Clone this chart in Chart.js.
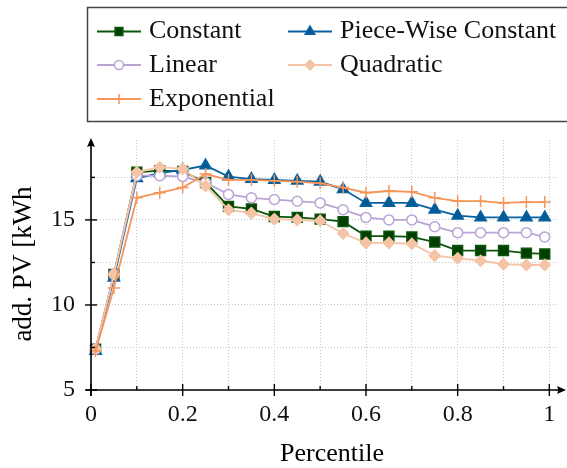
<!DOCTYPE html>
<html>
<head>
<meta charset="utf-8">
<script src="https://cdn.jsdelivr.net/npm/chart.js"></script>
<style>
  html, body { margin: 0; padding: 0; background: #fff; }
  #contenedor { width: 567px; height: 468px; }
</style>
</head>
<body>
<div id="contenedor"><canvas id="grafico"></canvas></div>
<script>
// --- Datos ---
const percentiles = [0.01, 0.05, 0.1, 0.15, 0.2, 0.25, 0.3, 0.35, 0.4, 0.45, 0.5,
                     0.55, 0.6, 0.65, 0.7, 0.75, 0.8, 0.85, 0.9, 0.95, 0.99];
const constante = [7.4, 11.8, 17.8, 17.9, 17.85, 17.2, 15.8, 15.65, 15.2, 15.15, 15.05,
                   14.9, 14.05, 14.05, 14.0, 13.7, 13.2, 13.2, 13.2, 13.05, 13.0];
const porTramos = [7.3, 11.6, 17.45, 17.75, 17.95, 18.2, 17.55, 17.4, 17.35, 17.3, 17.25,
                   16.8, 16.0, 16.0, 16.0, 15.6, 15.25, 15.15, 15.15, 15.15, 15.15];
const lineal = [7.4, 11.8, 17.6, 17.6, 17.55, 17.2, 16.5, 16.3, 16.2, 16.1, 16.0,
                15.6, 15.15, 15.0, 15.0, 14.6, 14.25, 14.25, 14.25, 14.25, 14.0];
const cuadratica = [7.4, 11.8, 17.8, 18.1, 18.0, 17.0, 15.6, 15.4, 15.05, 15.0, 14.95,
                    14.2, 13.65, 13.65, 13.6, 12.9, 12.75, 12.6, 12.4, 12.35, 12.35];
const exponencial = [7.3, 11.0, 16.3, 16.6, 16.9, 17.7, 17.35, 17.35, 17.3, 17.25, 17.15,
                     16.9, 16.6, 16.7, 16.65, 16.3, 16.1, 16.1, 16.0, 16.05, 16.05];

const nombresSeries = ["Constant", "Piece-Wise Constant", "Linear", "Quadratic", "Exponential"];

// ticks: rejilla menor y etiquetas
const xRejilla = [0, 0.1, 0.2, 0.3, 0.4, 0.5, 0.6, 0.7, 0.8, 0.9, 1];
const xEtiquetas = [0, 0.2, 0.4, 0.6, 0.8, 1];
const yRejilla = [5, 7.5, 10, 12.5, 15, 17.5];
const yEtiquetas = [5, 10, 15];

const fuente = "'Liberation Serif', 'DejaVu Serif', serif";

function puntos(valores) {
    return percentiles.map((p, i) => ({ x: p, y: valores[i] }));
}

function serie(nombre, valores, color, relleno, estilo, radio, orden) {
    return {
        label: nombre,
        data: puntos(valores),
        borderColor: color,
        backgroundColor: relleno,
        borderWidth: 1.8,
        pointStyle: estilo,
        pointRadius: radio,
        pointHoverRadius: radio,
        pointBackgroundColor: relleno,
        pointBorderColor: color,
        pointBorderWidth: 1.5,
        tension: 0,
        clip: false,
        order: orden
    };
}

const datasets = [
    serie(nombresSeries[0], constante, "#0b560b", "#003f00", "rect", 7, 5),
    serie(nombresSeries[1], porTramos, "#0862a0", "#005a96", "triangle", 6.5, 4),
    serie(nombresSeries[2], lineal, "#b9a4d5", "#ffffff", "circle", 5, 3),
    serie(nombresSeries[3], cuadratica, "#f5c3a5", "#f5c3a5", "rectRot", 5.5, 2),
    serie(nombresSeries[4], exponencial, "#f5955a", "#f5955a", "cross", 6, 1)
];

// --- Ejes, flechas, titulos y leyenda ---
function flecha(ctx, x, y, dir) {
    ctx.save();
    ctx.translate(x, y);
    ctx.rotate(dir);
    ctx.beginPath();
    ctx.moveTo(4, 0);
    ctx.lineTo(-5, -4);
    ctx.quadraticCurveTo(-3, 0, -5, 4);
    ctx.closePath();
    ctx.fill();
    ctx.restore();
}

const pluginEjes = {
    id: "ejes",
    afterDraw(chart) {
        const ctx = chart.ctx;
        const xs = chart.scales.x, ys = chart.scales.y;
        const x0 = xs.getPixelForValue(0);
        const y0 = ys.getPixelForValue(5);

        ctx.save();
        ctx.strokeStyle = "#000";
        ctx.fillStyle = "#000";
        ctx.lineWidth = 1.6;

        // eje x
        ctx.beginPath();
        ctx.moveTo(x0 - 5, y0);
        ctx.lineTo(561, y0);
        ctx.stroke();
        flecha(ctx, 562, y0, 0);

        // eje y
        ctx.beginPath();
        ctx.moveTo(x0, y0 + 6);
        ctx.lineTo(x0, chart.chartArea.top + 3);
        ctx.stroke();
        flecha(ctx, x0, chart.chartArea.top + 2, -Math.PI / 2);

        // marcas de los ejes
        ctx.lineWidth = 1.4;
        xRejilla.forEach(v => {
            const px = xs.getPixelForValue(v);
            const mayor = xEtiquetas.includes(v);
            ctx.beginPath();
            ctx.moveTo(px, mayor ? y0 + 6 : y0);
            ctx.lineTo(px, y0 - (mayor ? 6 : 4));
            ctx.stroke();
        });
        yRejilla.forEach(v => {
            const py = ys.getPixelForValue(v);
            const mayor = yEtiquetas.includes(v);
            ctx.beginPath();
            ctx.moveTo(mayor ? x0 - 6 : x0, py);
            ctx.lineTo(x0 + (mayor ? 6 : 4), py);
            ctx.stroke();
        });

        // titulos
        ctx.font = "26px " + fuente;
        ctx.textAlign = "center";
        ctx.textBaseline = "alphabetic";
        ctx.fillText("Percentile", 332, 461);
        ctx.save();
        ctx.translate(31, 264);
        ctx.rotate(-Math.PI / 2);
        ctx.font = "27px " + fuente;
        ctx.fillText("add. PV [kWh", 0, 0);
        ctx.restore();

        // leyenda
        ctx.lineWidth = 1.5;
        ctx.strokeStyle = "#444";
        ctx.strokeRect(87.5, 7.5, 500, 114);

        const entradas = [
            { i: 0, x: 97, y: 31.5, r: 5.5 },
            { i: 1, x: 288, y: 31.5, r: 5.5 },
            { i: 2, x: 97, y: 65, r: 4.5 },
            { i: 3, x: 288, y: 65, r: 5 },
            { i: 4, x: 97, y: 99, r: 5 }
        ];
        entradas.forEach(e => {
            const ds = chart.data.datasets[e.i];
            ctx.strokeStyle = ds.borderColor;
            ctx.lineWidth = 1.8;
            ctx.beginPath();
            ctx.moveTo(e.x, e.y);
            ctx.lineTo(e.x + 44, e.y);
            ctx.stroke();
            ctx.fillStyle = ds.pointBackgroundColor;
            ctx.lineWidth = ds.pointBorderWidth;
            Chart.helpers.drawPoint(ctx, {
                pointStyle: ds.pointStyle,
                radius: e.r,
                borderWidth: ds.pointBorderWidth,
                rotation: 0
            }, e.x + 22, e.y);
            ctx.fillStyle = "#111";
            ctx.font = "26px " + fuente;
            ctx.textAlign = "left";
            ctx.textBaseline = "alphabetic";
            ctx.fillText(ds.label, e.x + 52, e.y + 6.5);
        });
        ctx.restore();
    }
};

// --- Grafico ---
new Chart(document.getElementById("grafico"), {
    type: "line",
    data: { datasets: datasets },
    options: {
        responsive: true,
        maintainAspectRatio: false,
        animation: false,
        devicePixelRatio: 1,
        layout: { padding: { top: 140, right: 7, left: 0, bottom: 0 } },
        plugins: { legend: { display: false }, tooltip: { enabled: false } },
        scales: {
            x: {
                type: "linear",
                min: 0,
                max: 1.02,
                afterBuildTicks: s => { s.ticks = xRejilla.map(v => ({ value: v })); },
                afterFit: s => { s.height = 78; },
                grid: { color: "#c8c8c8", lineWidth: 1, drawTicks: false },
                border: { display: false, dash: [1, 2] },
                ticks: {
                    autoSkip: false,
                    maxRotation: 0,
                    padding: 10,
                    color: "#111",
                    font: { family: fuente, size: 24 },
                    callback: v => xEtiquetas.includes(v) ? String(v) : ""
                }
            },
            y: {
                min: 5,
                max: 19.7,
                afterBuildTicks: s => { s.ticks = yRejilla.map(v => ({ value: v })); },
                afterFit: s => { s.width = 91; },
                grid: { color: "#c8c8c8", lineWidth: 1, drawTicks: false },
                border: { display: false, dash: [1, 2] },
                ticks: {
                    padding: 16,
                    color: "#111",
                    font: { family: fuente, size: 24 },
                    callback: v => yEtiquetas.includes(v) ? String(v) : ""
                }
            }
        }
    },
    plugins: [pluginEjes]
});
</script>
</body>
</html>
